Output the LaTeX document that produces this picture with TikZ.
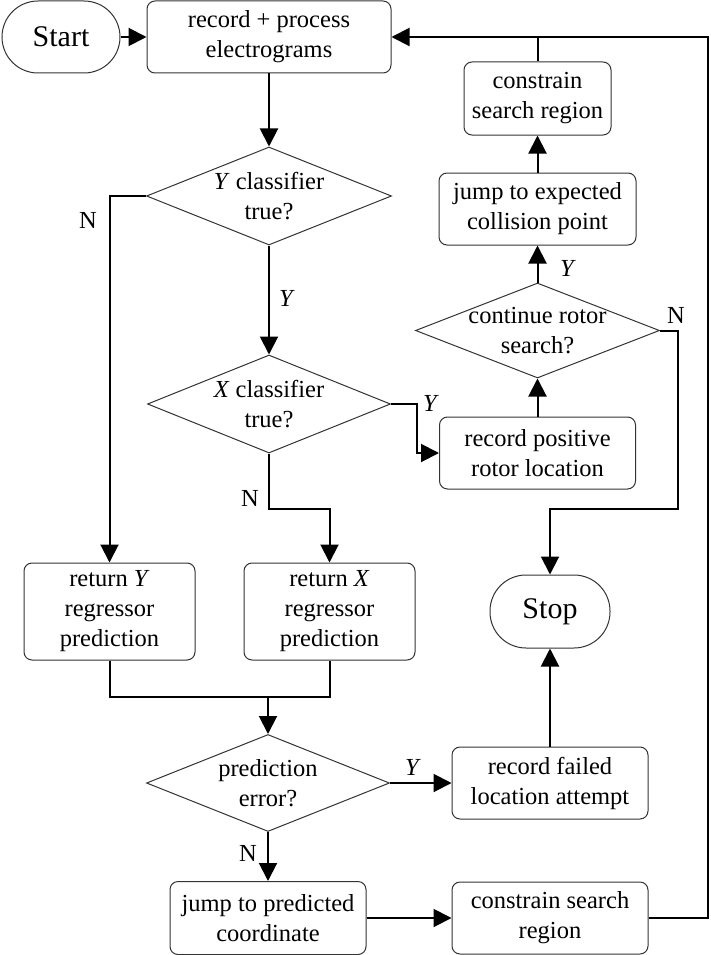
\documentclass[tikz,border=0pt]{standalone}
\usepackage{fontspec}
\setmainfont{Liberation Serif}
\usetikzlibrary{shapes.geometric,arrows.meta}
\begin{document}
\begin{tikzpicture}[x=1pt,y=-1pt,
  every node/.style={font=\fontsize{24.5}{30}\selectfont},
  box/.style={draw=black!80, line width=1pt, rounded corners=8pt, align=center, inner sep=0pt},
  term/.style={draw=black!80, line width=1pt, rounded corners=36pt, minimum width=120pt, minimum height=73pt, font=\fontsize{30}{36}\selectfont, inner sep=0pt},
  dec/.style={draw=black!80, line width=1pt, diamond, aspect=2.5, align=center, inner xsep=-25pt, inner ysep=-12pt},
  conn/.style={line width=2pt, -{Triangle[length=18pt,width=18pt]}},
  plain/.style={line width=2pt},
  lab/.style={inner sep=0pt}
]
\useasboundingbox (0,0) rectangle (710,955);

% nodes
\node[term, minimum width=118pt, minimum height=72pt] (start) at (61,37) {Start};
\node[box, minimum width=244pt, minimum height=72pt] (rec) at (269,37) {record + process\\electrograms};
\node[dec, minimum width=245pt, minimum height=98pt] (ydia) at (269,196) {\textit{Y} classifier\\true?};
\node[dec, minimum width=243pt, minimum height=98pt] (xdia) at (269,404) {\textit{X} classifier\\true?};
\node[box, minimum width=171pt, minimum height=97pt] (rety) at (109.5,611.5) {return \textit{Y}\\regressor\\prediction};
\node[box, minimum width=171pt, minimum height=97pt] (retx) at (329.5,611.5) {return \textit{X}\\regressor\\prediction};
\node[dec, minimum width=243pt, minimum height=97pt] (pdia) at (268,783) {prediction\\error?};
\node[box, minimum width=196pt, minimum height=73pt] (jpred) at (268,918) {jump to predicted\\coordinate};
\node[box, minimum width=196pt, minimum height=72pt] (rfail) at (550,783) {record failed\\location attempt};
\node[box, minimum width=196pt, minimum height=72pt] (csr) at (550,918) {constrain search\\region};
\node[term] (stop) at (550,611.5) {Stop};
\node[box, minimum width=196pt, minimum height=72pt] (rpos) at (537.5,453) {record positive\\rotor location};
\node[dec, minimum width=244pt, minimum height=95pt] (cdia) at (537.5,330.5) {continue rotor\\search?};
\node[box, minimum width=197pt, minimum height=72pt] (jexp) at (537.5,209) {jump to expected\\collision point};
\node[box, minimum width=147pt, minimum height=73pt] (ctop) at (537.5,98.5) {constrain\\search region};

% helper coordinates
\coordinate (merge) at (268,697);
\coordinate (rt) at (708,37);
\coordinate (nb) at (678,509);

% connectors
\draw[conn] (start.east) -- (rec.west);
\draw[conn] (rec) -- (ydia);
\draw[conn] (ydia.west) -| (rety.north);
\draw[conn] (ydia) -- (xdia);
\draw[conn] (xdia.east) -- ++(26,0) |- (rpos.west);
\draw[conn] (xdia.south) -- ++(0,55) -| (retx.north);
\draw[plain] (rety.south) |- (merge) -| (retx.south);
\draw[conn] (merge) -- (pdia.north);
\draw[conn] (pdia.east) -- (rfail.west);
\draw[conn] (rfail.north) -- (stop.south);
\draw[conn] (pdia.south) -- (jpred.north);
\draw[conn] (jpred.east) -- (csr.west);
\draw[conn] (csr.east) -| (rt) -- (rec.east);
\draw[conn] (rpos.north) -- (cdia.south);
\draw[conn] (cdia.north) -- (jexp.south);
\draw[conn] (jexp.north) -- (ctop.south);
\draw[plain] (ctop.north) -- (ctop.north |- rt);
\draw[conn] (cdia.east) -| (nb) -| (stop.north);

% labels
\node[lab] (l1) at (88,220) {N};
\node[lab] (l2) at (287,298) {\textit{Y}};
\node[lab] (l3) at (431,403) {\textit{Y}};
\node[lab] (l4) at (250,498) {N};
\node[lab] (l5) at (413,767) {\textit{Y}};
\node[lab] (l6) at (248,853) {N};
\node[lab] (l7) at (568,268) {\textit{Y}};
\node[lab] (l8) at (676,315) {N};
\end{tikzpicture}
\end{document}
